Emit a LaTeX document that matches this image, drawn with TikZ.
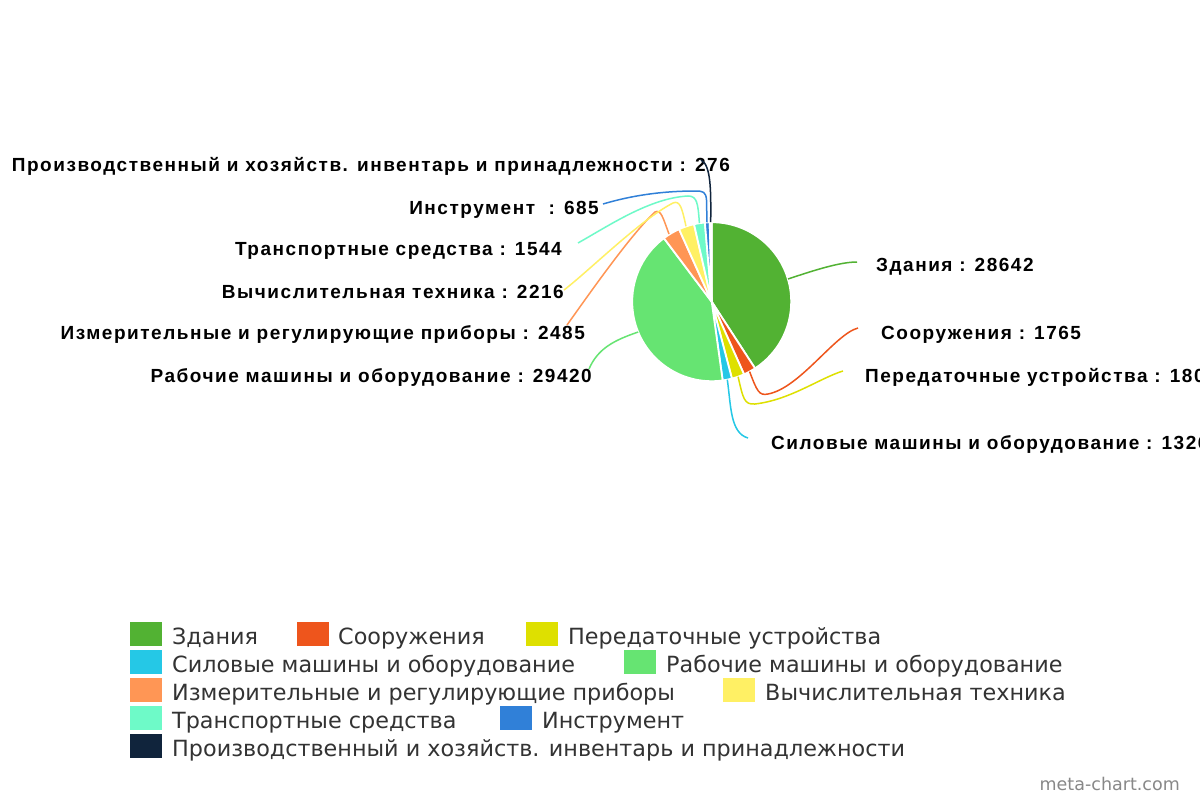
\documentclass[tikz,border=0pt]{standalone}
\usepackage{fontspec}
\setmainfont{DejaVu Sans}
\newfontfamily\lblfont[LetterSpace=8]{Liberation Sans}
\newfontfamily\legfont{DejaVu Sans}
\definecolor{cZd}{RGB}{82,178,51}
\definecolor{cSo}{RGB}{238,85,28}
\definecolor{cPe}{RGB}{222,224,0}
\definecolor{cSi}{RGB}{37,200,230}
\definecolor{cRa}{RGB}{102,228,114}
\definecolor{cIz}{RGB}{255,150,85}
\definecolor{cVy}{RGB}{255,240,100}
\definecolor{cTr}{RGB}{110,250,200}
\definecolor{cIn}{RGB}{48,128,216}
\definecolor{cPr}{RGB}{16,36,60}
\definecolor{leggray}{RGB}{51,51,51}
\definecolor{markgray}{RGB}{136,136,136}
\newcommand\myslice[3]{\fill[#3, draw=white, line width=1.8pt] (C) -- +(#1:79.5) arc[start angle=#1, end angle=#2, radius=79.5] -- cycle;}
\begin{document}
\begin{tikzpicture}[x=1pt,y=-1pt,
  lbl/.style={font=\lblfont\bfseries\fontsize{19}{21}\selectfont, text=black, inner sep=0pt},
  lblL/.style={lbl, anchor=base east},
  lblR/.style={lbl, anchor=base west},
  lead/.style={line width=1.5pt},
  swatch/.style={minimum width=32pt, minimum height=24pt, inner sep=0pt, draw=none},
  legtxt/.style={font=\legfont\fontsize{22.3}{24}\selectfont, text=leggray, anchor=base west, inner sep=0pt}]
\useasboundingbox (0,0) rectangle (1200,800);
\fill[white] (0,0) rectangle (1200,800);
\clip (0,0) rectangle (1200,800);

% pie
\coordinate (C) at (711.7,301.7);
\myslice{-90}{56.97}{cZd}
\myslice{56.97}{66.03}{cSo}
\myslice{66.03}{75.27}{cPe}
\myslice{75.27}{82.07}{cSi}
\myslice{82.07}{233.03}{cRa}
\myslice{233.03}{245.78}{cIz}
\myslice{245.78}{257.15}{cVy}
\myslice{257.15}{265.07}{cTr}
\myslice{265.07}{268.58}{cIn}
\myslice{268.58}{270}{cPr}

% label start points on the rim
\coordinate (s1) at (788,279);
\coordinate (s2) at (749.6,371.6);
\coordinate (s3) at (738.1,376.7);
\coordinate (s4) at (727.3,379.7);
\coordinate (s5) at (638.2,332);
\coordinate (s6) at (669,234);
\coordinate (s7) at (686,226.3);
\coordinate (s8) at (699.4,223.2);
\coordinate (s9) at (707,222.3);
\coordinate (s10) at (710.7,222.2);

% labels
\node[lblR] (l1) at (876,271.5) {Здания : 28642};
\node[lblR] (l2) at (881,339.5) {Сооружения : 1765};
\node[lblR] (l3) at (865,382.5) {Передаточные устройства : 1800};
\node[lblR] (l4) at (771,449.5) {Силовые машины и оборудование : 1326};
\node[lblL] (l5) at (592,382.5) {Рабочие машины и оборудование : 29420};
\node[lblL] (l6) at (585,339.5) {Измерительные и регулирующие приборы : 2485};
\node[lblL] (l7) at (564,298.5) {Вычислительная техника : 2216};
\node[lblL] (l8) at (562,255.5) {Транспортные средства : 1544};
\node[lblL] (l9) at (599,214.5) {Инструмент\ \ : 685};
\node[lblL] (l10) at (730,171.5) {Производственный и хозяйств. инвентарь и принадлежности : 276};

% leader ends
\coordinate (e1) at (857,262);
\coordinate (e2) at (858,328);
\coordinate (e3) at (843,371);
\coordinate (e4) at (748,438);
\coordinate (e5) at (589,369);
\coordinate (e6) at (567,325);
\coordinate (e7) at (564,290);
\coordinate (e8) at (578,243);
\coordinate (e9) at (603,204);
\coordinate (e10) at (701,160);

\draw[lead, cZd] (s1) .. controls (815,270) and (840,262) .. (e1);
\draw[lead, cSo] (s2) .. controls (757,391) and (759,396) .. (768,394) .. controls (800,388) and (835,334) .. (e2);
\draw[lead, cPe] (s3) .. controls (743,398) and (744,405) .. (755,404) .. controls (790,400) and (820,378) .. (e3);
\draw[lead, cSi] (s4) .. controls (731,405) and (730,433) .. (e4);
\draw[lead, cRa] (s5) .. controls (615,340) and (598,348) .. (e5);
\draw[lead, cIz] (s6) .. controls (663,218) and (661,209) .. (655,212) .. controls (630,235) and (585,300) .. (e6);
\draw[lead, cVy] (s7) .. controls (682,208) and (680,200) .. (673,203) .. controls (640,220) and (590,270) .. (e7);
\draw[lead, cTr] (s8) .. controls (698,203) and (697,196) .. (688,196) .. controls (650,198) and (610,225) .. (e8);
\draw[lead, cIn] (s9) -- (706.5,200) .. controls (706,192) and (703,191) .. (696,191) .. controls (660,191) and (630,196) .. (e9);
\draw[lead, cPr] (s10) .. controls (711,190) and (711,165) .. (e10);

% legend
\node[swatch, fill=cZd] (k1) at (146,634) {};
\node[legtxt] (t1) at (172,644) {Здания};
\node[swatch, fill=cSo] (k2) at (313,634) {};
\node[legtxt] (t2) at (338,644) {Сооружения};
\node[swatch, fill=cPe] (k3) at (542,634) {};
\node[legtxt] (t3) at (568,644) {Передаточные устройства};
\node[swatch, fill=cSi] (k4) at (146,662) {};
\node[legtxt] (t4) at (172,672) {Силовые машины и оборудование};
\node[swatch, fill=cRa] (k5) at (640,662) {};
\node[legtxt] (t5) at (666,672) {Рабочие машины и оборудование};
\node[swatch, fill=cIz] (k6) at (146,690) {};
\node[legtxt] (t6) at (172,700) {Измерительные и регулирующие приборы};
\node[swatch, fill=cVy] (k7) at (739,690) {};
\node[legtxt] (t7) at (765,700) {Вычислительная техника};
\node[swatch, fill=cTr] (k8) at (146,718) {};
\node[legtxt] (t8) at (172,728) {Транспортные средства};
\node[swatch, fill=cIn] (k9) at (516,718) {};
\node[legtxt] (t9) at (542,728) {Инструмент};
\node[swatch, fill=cPr] (k10) at (146,746) {};
\node[legtxt] (t10) at (172,756) {Производственный и хозяйств. инвентарь и принадлежности};

\node[font=\legfont\fontsize{17.5}{20}\selectfont, text=markgray, anchor=base east, inner sep=0pt] (wm) at (1180,790) {meta-chart.com};
\end{tikzpicture}
\end{document}
